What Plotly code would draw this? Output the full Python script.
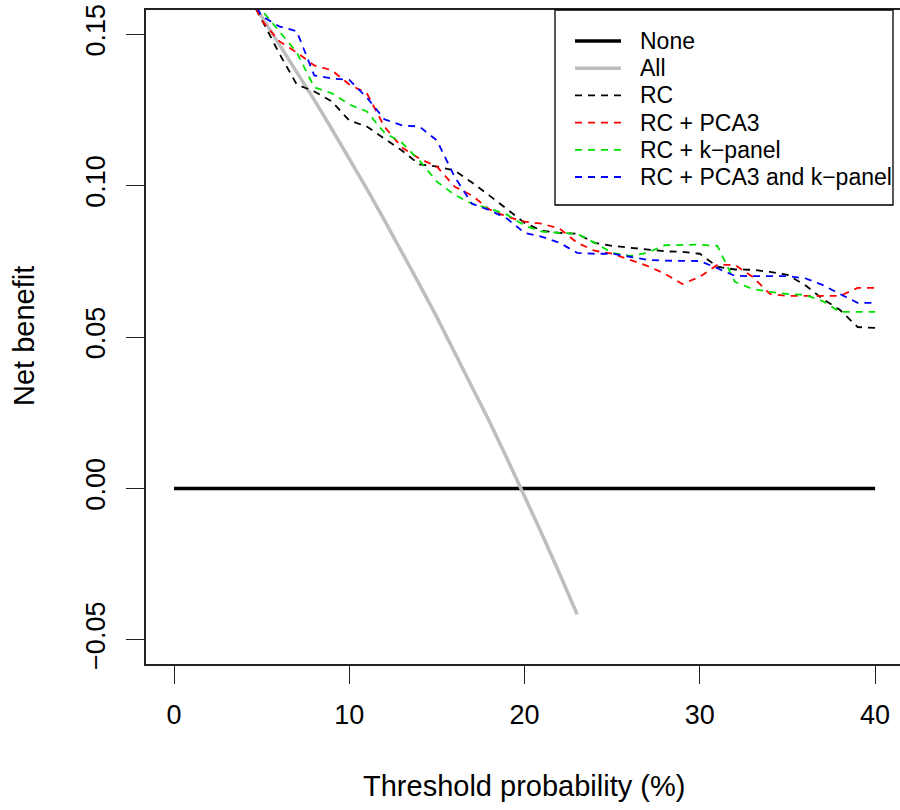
import plotly.graph_objects as go

# ---- data ----
thr_none = [0, 40]
nb_none = [0.0, 0.0]

thr_all = list(range(1, 24))
nb_all = [0.1899, 0.1816, 0.1732, 0.1646, 0.1558, 0.1468, 0.1376, 0.1283, 0.1187, 0.1089,
          0.0989, 0.0886, 0.0782, 0.0674, 0.0565, 0.0452, 0.0337, 0.0220, 0.0099, -0.0025,
          -0.0152, -0.0282, -0.0416]

thr_model = list(range(4, 41))
nb_rc = [0.166, 0.1546, 0.1437, 0.1334, 0.1311, 0.1278, 0.1215, 0.1195, 0.1156, 0.1116,
         0.1070, 0.1063, 0.1050, 0.1010, 0.0967, 0.0921, 0.0877, 0.0851, 0.0844, 0.0841,
         0.0811, 0.0801, 0.0795, 0.0788, 0.0783, 0.0781, 0.0775, 0.0732, 0.0723, 0.0722,
         0.0715, 0.0705, 0.0672, 0.0626, 0.0589, 0.0533, 0.0530]
nb_pca3 = [0.166, 0.1546, 0.1477, 0.1440, 0.1397, 0.1381, 0.1334, 0.1305, 0.1195, 0.1126,
           0.1089, 0.1063, 0.0997, 0.0967, 0.0921, 0.0897, 0.0881, 0.0874, 0.0858, 0.0811,
           0.0785, 0.0775, 0.0755, 0.0735, 0.0709, 0.0675, 0.0699, 0.0738, 0.0738, 0.0699,
           0.0642, 0.0636, 0.0636, 0.0636, 0.0636, 0.0662, 0.0662]
nb_kpanel = [0.168, 0.1580, 0.1510, 0.1440, 0.1325, 0.1305, 0.1268, 0.1245, 0.1175, 0.1142,
             0.1083, 0.1013, 0.0970, 0.0940, 0.0924, 0.0904, 0.0868, 0.0848, 0.0844, 0.0841,
             0.0811, 0.0778, 0.0768, 0.0778, 0.0803, 0.0805, 0.0805, 0.0801, 0.0682, 0.0659,
             0.0649, 0.0642, 0.0639, 0.0619, 0.0583, 0.0583, 0.0583]
nb_both = [0.166, 0.1560, 0.1526, 0.1510, 0.1364, 0.1354, 0.1349, 0.1291, 0.1219, 0.1199,
           0.1195, 0.1149, 0.1030, 0.0940, 0.0919, 0.0891, 0.0844, 0.0831, 0.0811, 0.0778,
           0.0775, 0.0775, 0.0765, 0.0755, 0.0752, 0.0752, 0.0751, 0.0727, 0.0702, 0.0701,
           0.0701, 0.0701, 0.0694, 0.0672, 0.0642, 0.0613, 0.0613]

series_names = ["None", "All", "RC", "RC + PCA3", "RC + k\u2212panel",
                "RC + PCA3 and k\u2212panel"]
series_colors = ["black", "#BEBEBE", "black", "#FF0000", "#00E000", "#0000FF"]

x_ticks = [0, 10, 20, 30, 40]
y_ticks = [-0.05, 0.00, 0.05, 0.10, 0.15]

FONT = "Liberation Sans"
DASH = "7px,6px"
SOLID_W = 3.5
DASH_W = 1.8

series_x = [thr_none, thr_all, thr_model, thr_model, thr_model, thr_model]
series_y = [nb_none, nb_all, nb_rc, nb_pca3, nb_kpanel, nb_both]
series_dash = ["solid", "solid", DASH, DASH, DASH, DASH]
series_w = [SOLID_W, SOLID_W, DASH_W, DASH_W, DASH_W, DASH_W]

fig = go.Figure()
for xs, ys, nm, col, ds, w in zip(series_x, series_y, series_names, series_colors,
                                   series_dash, series_w):
    fig.add_trace(go.Scatter(x=xs, y=ys, mode="lines", name=nm, showlegend=False,
                             line=dict(color=col, width=w, dash=ds)))

L, R, T, B = 146, 0, 10, 146
W, H = 900, 810
pw, ph = W - L - R, H - T - B

def px2paper_x(px):
    return (px - L) / pw

def px2paper_y(py):
    return (H - B - py) / ph

# legend (box, line samples and labels)
shapes = [dict(type="rect", xref="paper", yref="paper",
               x0=px2paper_x(555), x1=px2paper_x(893),
               y0=px2paper_y(205), y1=px2paper_y(10),
               line=dict(color="black", width=1.3), fillcolor="rgba(0,0,0,0)")]
annotations = []
row_y0, row_step = 41, 27.2
for i, (nm, col, ds, w) in enumerate(zip(series_names, series_colors, series_dash, series_w)):
    yy = px2paper_y(row_y0 + i * row_step)
    shapes.append(dict(type="line", xref="paper", yref="paper",
                       x0=px2paper_x(575), x1=px2paper_x(621), y0=yy, y1=yy,
                       line=dict(color=col, width=w, dash=ds)))
    annotations.append(dict(text=nm, xref="paper", yref="paper",
                            x=px2paper_x(638), y=yy, xanchor="left", yanchor="middle",
                            showarrow=False, font=dict(family=FONT, size=23, color="black")))

annotations += [
    dict(text="Threshold probability (%)", xref="paper", yref="paper",
         x=px2paper_x(524), y=px2paper_y(786), xanchor="center", yanchor="middle",
         showarrow=False, font=dict(family=FONT, size=29)),
    dict(text="Net benefit", xref="paper", yref="paper",
         x=px2paper_x(24), y=px2paper_y(336), xanchor="center", yanchor="middle",
         textangle=-90, showarrow=False, font=dict(family=FONT, size=29)),
]

fig.update_layout(
    width=W, height=H,
    margin=dict(l=L, r=R, t=T, b=B, pad=0),
    paper_bgcolor="white", plot_bgcolor="white",
    font=dict(family=FONT, size=27, color="black"),
    showlegend=False,
    xaxis=dict(range=[-1.6, 41.42], tickmode="array", tickvals=x_ticks,
               ticktext=[str(v) for v in x_ticks],
               showgrid=False, zeroline=False, showline=True, mirror=True,
               linecolor="#222", linewidth=1.5, ticks="outside", ticklen=18,
               tickwidth=1.3, tickcolor="#222", ticklabelstandoff=8),
    yaxis=dict(range=[-0.058, 0.158], tickmode="array", tickvals=y_ticks,
               ticktext=[f"{v:.2f}".replace("-", "\u2212") for v in y_ticks],
               tickangle=-90,
               showgrid=False, zeroline=False, showline=True, mirror=False,
               linecolor="#222", linewidth=1.5, ticks="outside", ticklen=18,
               tickwidth=1.3, tickcolor="#222", ticklabelstandoff=10),
    shapes=shapes,
    annotations=annotations,
)

fig.write_html("out.html",
               config={"displayModeBar": False},
               post_script="document.body.style.margin='0';"
                           "document.body.style.overflow='hidden';")
